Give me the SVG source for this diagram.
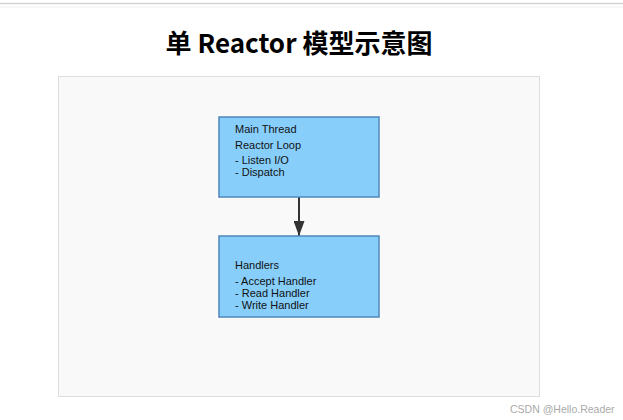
<svg xmlns="http://www.w3.org/2000/svg" width="623" height="420" viewBox="0 0 623 420">
<style>
.node rect{fill:#87cefa;stroke:#4f88ba;stroke-width:1.5}
.t{font-family:"Liberation Sans",Arial,sans-serif;font-size:11px;fill:#111}
.title{font-family:"Noto Sans CJK SC","Noto Sans",sans-serif;font-size:26px;font-weight:bold;fill:#000}
</style>
<defs>
<marker id="arr" viewBox="0 0 15 11" refX="15" refY="5.5" markerWidth="15" markerHeight="11" markerUnits="userSpaceOnUse" orient="auto"><path d="M0,0 L15,5.5 L0,11 z" fill="#333"/></marker>
</defs>
<rect width="623" height="420" fill="#fff"/>
<line x1="0" y1="3.5" x2="623" y2="3.5" stroke="#d4d4d4" stroke-width="1.5"/>
<line x1="0" y1="7" x2="623" y2="7" stroke="#eee" stroke-width="1"/>
<text class="title" x="299" y="53" text-anchor="middle">单 Reactor 模型示意图</text>
<rect x="58.5" y="76.5" width="481" height="320" fill="#f9f9f9" stroke="#ddd"/>
<g id="connectors">
<line x1="299" y1="197" x2="299" y2="236" stroke="#333" stroke-width="2" marker-end="url(#arr)"/>
</g>
<g id="main" class="node">
<rect x="219" y="117" width="160" height="80"/>
<text class="t" x="235" y="133">Main Thread</text>
<text class="t" x="235" y="149">Reactor Loop</text>
<text class="t" x="235" y="164">- Listen I/O</text>
<text class="t" x="235" y="176">- Dispatch</text>
</g>
<g id="handlers" class="node">
<rect x="219" y="236" width="160" height="81"/>
<text class="t" x="235" y="269">Handlers</text>
<text class="t" x="235" y="285">- Accept Handler</text>
<text class="t" x="235" y="297">- Read Handler</text>
<text class="t" x="235" y="309">- Write Handler</text>
</g>
<text x="510" y="413" font-family="'Liberation Sans',Arial,sans-serif" font-size="10.5" fill="#aaa">CSDN @Hello.Reader</text>
</svg>
